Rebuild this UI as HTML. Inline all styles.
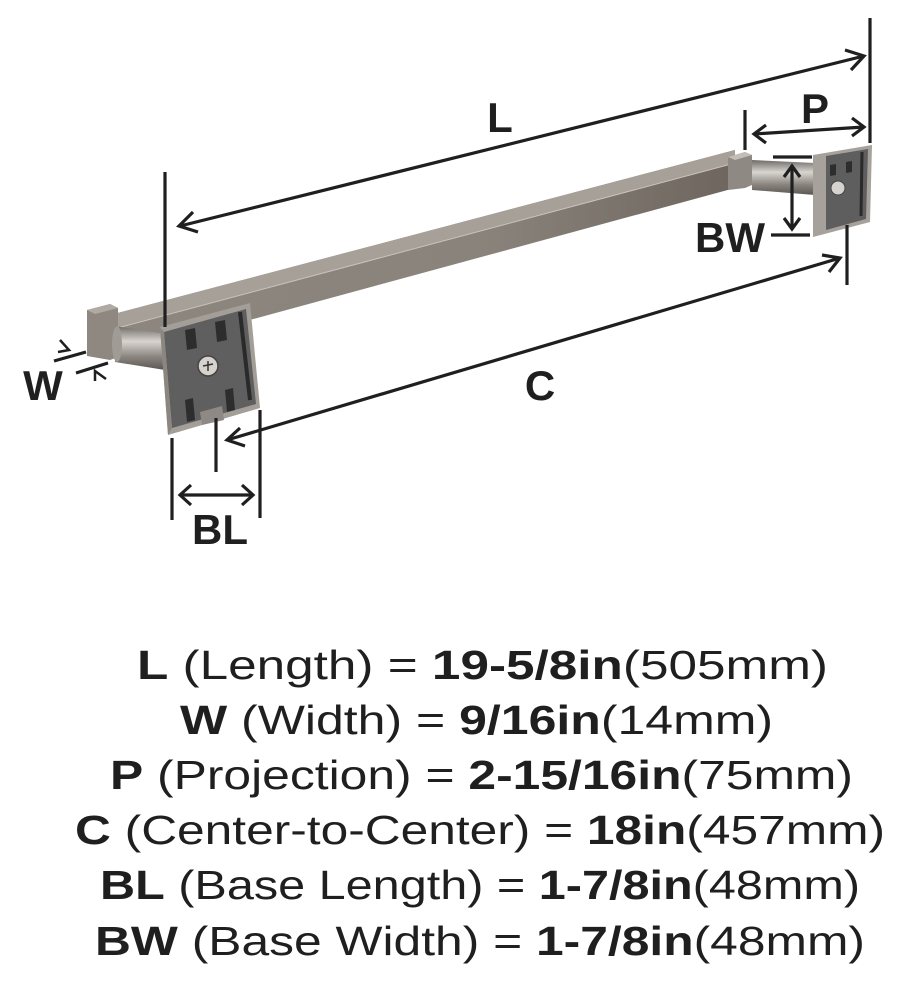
<!DOCTYPE html>
<html><head><meta charset="utf-8"><style>
html,body{margin:0;padding:0;background:#fff;}
svg{display:block;}
</style></head><body>
<svg width="902" height="990" viewBox="0 0 902 990" xmlns="http://www.w3.org/2000/svg">
<defs>
<linearGradient id="cyl" x1="0" y1="0" x2="0" y2="1">
<stop offset="0" stop-color="#6e6a66"/><stop offset="0.35" stop-color="#d8d4cf"/><stop offset="0.7" stop-color="#8a857f"/><stop offset="1" stop-color="#5a5652"/></linearGradient>
<linearGradient id="bar" x1="0" y1="0" x2="1" y2="0">
<stop offset="0" stop-color="#8c867f"/><stop offset="0.6" stop-color="#8a837b"/><stop offset="1" stop-color="#6e665e"/></linearGradient>
</defs>
<!-- bar -->
<polygon points="110,315 735,150 735,188 110,358" fill="url(#bar)"/>
<polygon points="110,315 735,150 735,163 110,330" fill="#a7a098"/>
<line x1="110" y1="330" x2="735" y2="163" stroke="#c9c3bc" stroke-width="1"/>
<!-- left end block -->
<polygon points="87,310 110,304 118,308 118,357 110,360 87,356" fill="#8e8881"/>
<polygon points="87,310 110,304 118,308 95,314" fill="#b0aaa3"/>
<!-- left cylinder -->
<polygon points="115,326 165,334 165,370 115,362" fill="url(#cyl)"/>
<ellipse cx="117" cy="344" rx="5" ry="18" fill="#a09b95"/>
<!-- left plate -->
<polygon points="160,327 250,303 260,408 168,435" fill="#a39e98"/>
<polygon points="164,332 246,309 256,404 172,428" fill="#5f5f60"/>
<polygon points="160,327 164,332 172,428 168,435" fill="#8b8680"/>
<polygon points="185,330 195,328 197,348 187,350" fill="#2d2d2d"/>
<polygon points="215,322 225,320 227,340 217,342" fill="#2d2d2d"/>
<polygon points="185,400 193,398 195,420 187,422" fill="#2d2d2d"/>
<polygon points="225,390 233,388 235,410 227,412" fill="#2d2d2d"/>
<polygon points="200,412 222,406 224,420 202,425" fill="#8e8984"/>
<line x1="240" y1="312" x2="250" y2="400" stroke="#2a2a2a" stroke-width="4"/>
<circle cx="208" cy="366" r="10" fill="#d6d3cf" stroke="#444" stroke-width="1.5"/>
<path d="M203 366 L213 364 M208 361 L208 371" stroke="#333" stroke-width="1.5"/>
<!-- right end block -->
<polygon points="728,157 745,152 752,155 752,185 745,188 728,190" fill="#8f8983"/>
<polygon points="728,157 745,152 752,155 735,160" fill="#c2bdb7"/>
<!-- right cylinder -->
<polygon points="752,160 815,163 815,195 752,190" fill="url(#cyl)"/>
<!-- right plate -->
<polygon points="813,155 872,145 870,222 813,237" fill="#a6a19b"/>
<polygon points="826,156 868,149 866,219 826,230" fill="#5e5e5f"/>
<circle cx="838" cy="188" r="7" fill="#d6d3cf" stroke="#444" stroke-width="1"/>
<polygon points="830,165 836,164 836,175 830,176" fill="#2d2d2d"/>
<polygon points="846,162 852,161 852,172 846,173" fill="#2d2d2d"/>
<line x1="862" y1="152" x2="861" y2="216" stroke="#2a2a2a" stroke-width="3"/>
<g stroke="#1f1f1f" stroke-width="3.2" fill="none" stroke-linecap="butt">
<line x1="165" y1="172" x2="165" y2="327"/>
<line x1="870" y1="18" x2="870" y2="143"/>
<line x1="180" y1="226" x2="864" y2="56"/>
<polyline points="193,212 179,226 198,232"/>
<polyline points="845,50 864,56 851,70"/>
<line x1="745" y1="110" x2="745" y2="150"/>
<line x1="754" y1="134" x2="864" y2="127"/>
<polyline points="766,125 754,134 766,143"/>
<polyline points="852,118 864,127 852,136"/>
<line x1="773" y1="157" x2="812" y2="157"/>
<line x1="771" y1="235" x2="810" y2="235"/>
<line x1="792" y1="167" x2="792" y2="228"/>
<polyline points="784,177 792,166 800,177"/>
<polyline points="784,218 792,229 800,218"/>
<line x1="847" y1="225" x2="847" y2="285"/>
<line x1="227" y1="440" x2="840" y2="258"/>
<polyline points="240,428 227,440 245,446"/>
<polyline points="822,255 840,258 829,272"/>
<line x1="172" y1="438" x2="172" y2="520"/>
<line x1="216" y1="418" x2="216" y2="472"/>
<line x1="260" y1="410" x2="260" y2="518"/>
<line x1="180" y1="495" x2="253" y2="495"/>
<polyline points="191,485 180,495 191,505"/>
<polyline points="242,485 253,495 242,505"/>
<line x1="54" y1="361" x2="86" y2="352"/>
<line x1="76" y1="373" x2="108" y2="363"/>
<polyline points="60,340 69,350 58,352" stroke-width="2.5"/>
<polyline points="95,381 95,371 106,379" stroke-width="2.5"/>
</g>
<g font-family="'Liberation Sans',sans-serif" font-weight="bold" fill="#1f1f1f" font-size="42" text-anchor="middle">
<text x="500" y="132">L</text>
<text x="815" y="123">P</text>
<text x="730" y="252">BW</text>
<text x="540" y="400">C</text>
<text x="220" y="544">BL</text>
<text x="43" y="400">W</text>
</g>
<g font-family="'Liberation Sans',sans-serif" fill="#1f1f1f" font-size="41">
<text x="137" y="679" textLength="691" lengthAdjust="spacingAndGlyphs"><tspan font-weight="bold">L</tspan> (Length) = <tspan font-weight="bold">19-5/8in</tspan>(505mm)</text>
<text x="180" y="734" textLength="593" lengthAdjust="spacingAndGlyphs"><tspan font-weight="bold">W</tspan> (Width) = <tspan font-weight="bold">9/16in</tspan>(14mm)</text>
<text x="110" y="789" textLength="743" lengthAdjust="spacingAndGlyphs"><tspan font-weight="bold">P</tspan> (Projection) = <tspan font-weight="bold">2-15/16in</tspan>(75mm)</text>
<text x="75" y="844" textLength="810" lengthAdjust="spacingAndGlyphs"><tspan font-weight="bold">C</tspan> (Center-to-Center) = <tspan font-weight="bold">18in</tspan>(457mm)</text>
<text x="100" y="899" textLength="760" lengthAdjust="spacingAndGlyphs"><tspan font-weight="bold">BL</tspan> (Base Length) = <tspan font-weight="bold">1-7/8in</tspan>(48mm)</text>
<text x="95" y="955" textLength="770" lengthAdjust="spacingAndGlyphs"><tspan font-weight="bold">BW</tspan> (Base Width) = <tspan font-weight="bold">1-7/8in</tspan>(48mm)</text>
</g>
</svg>
</body></html>
